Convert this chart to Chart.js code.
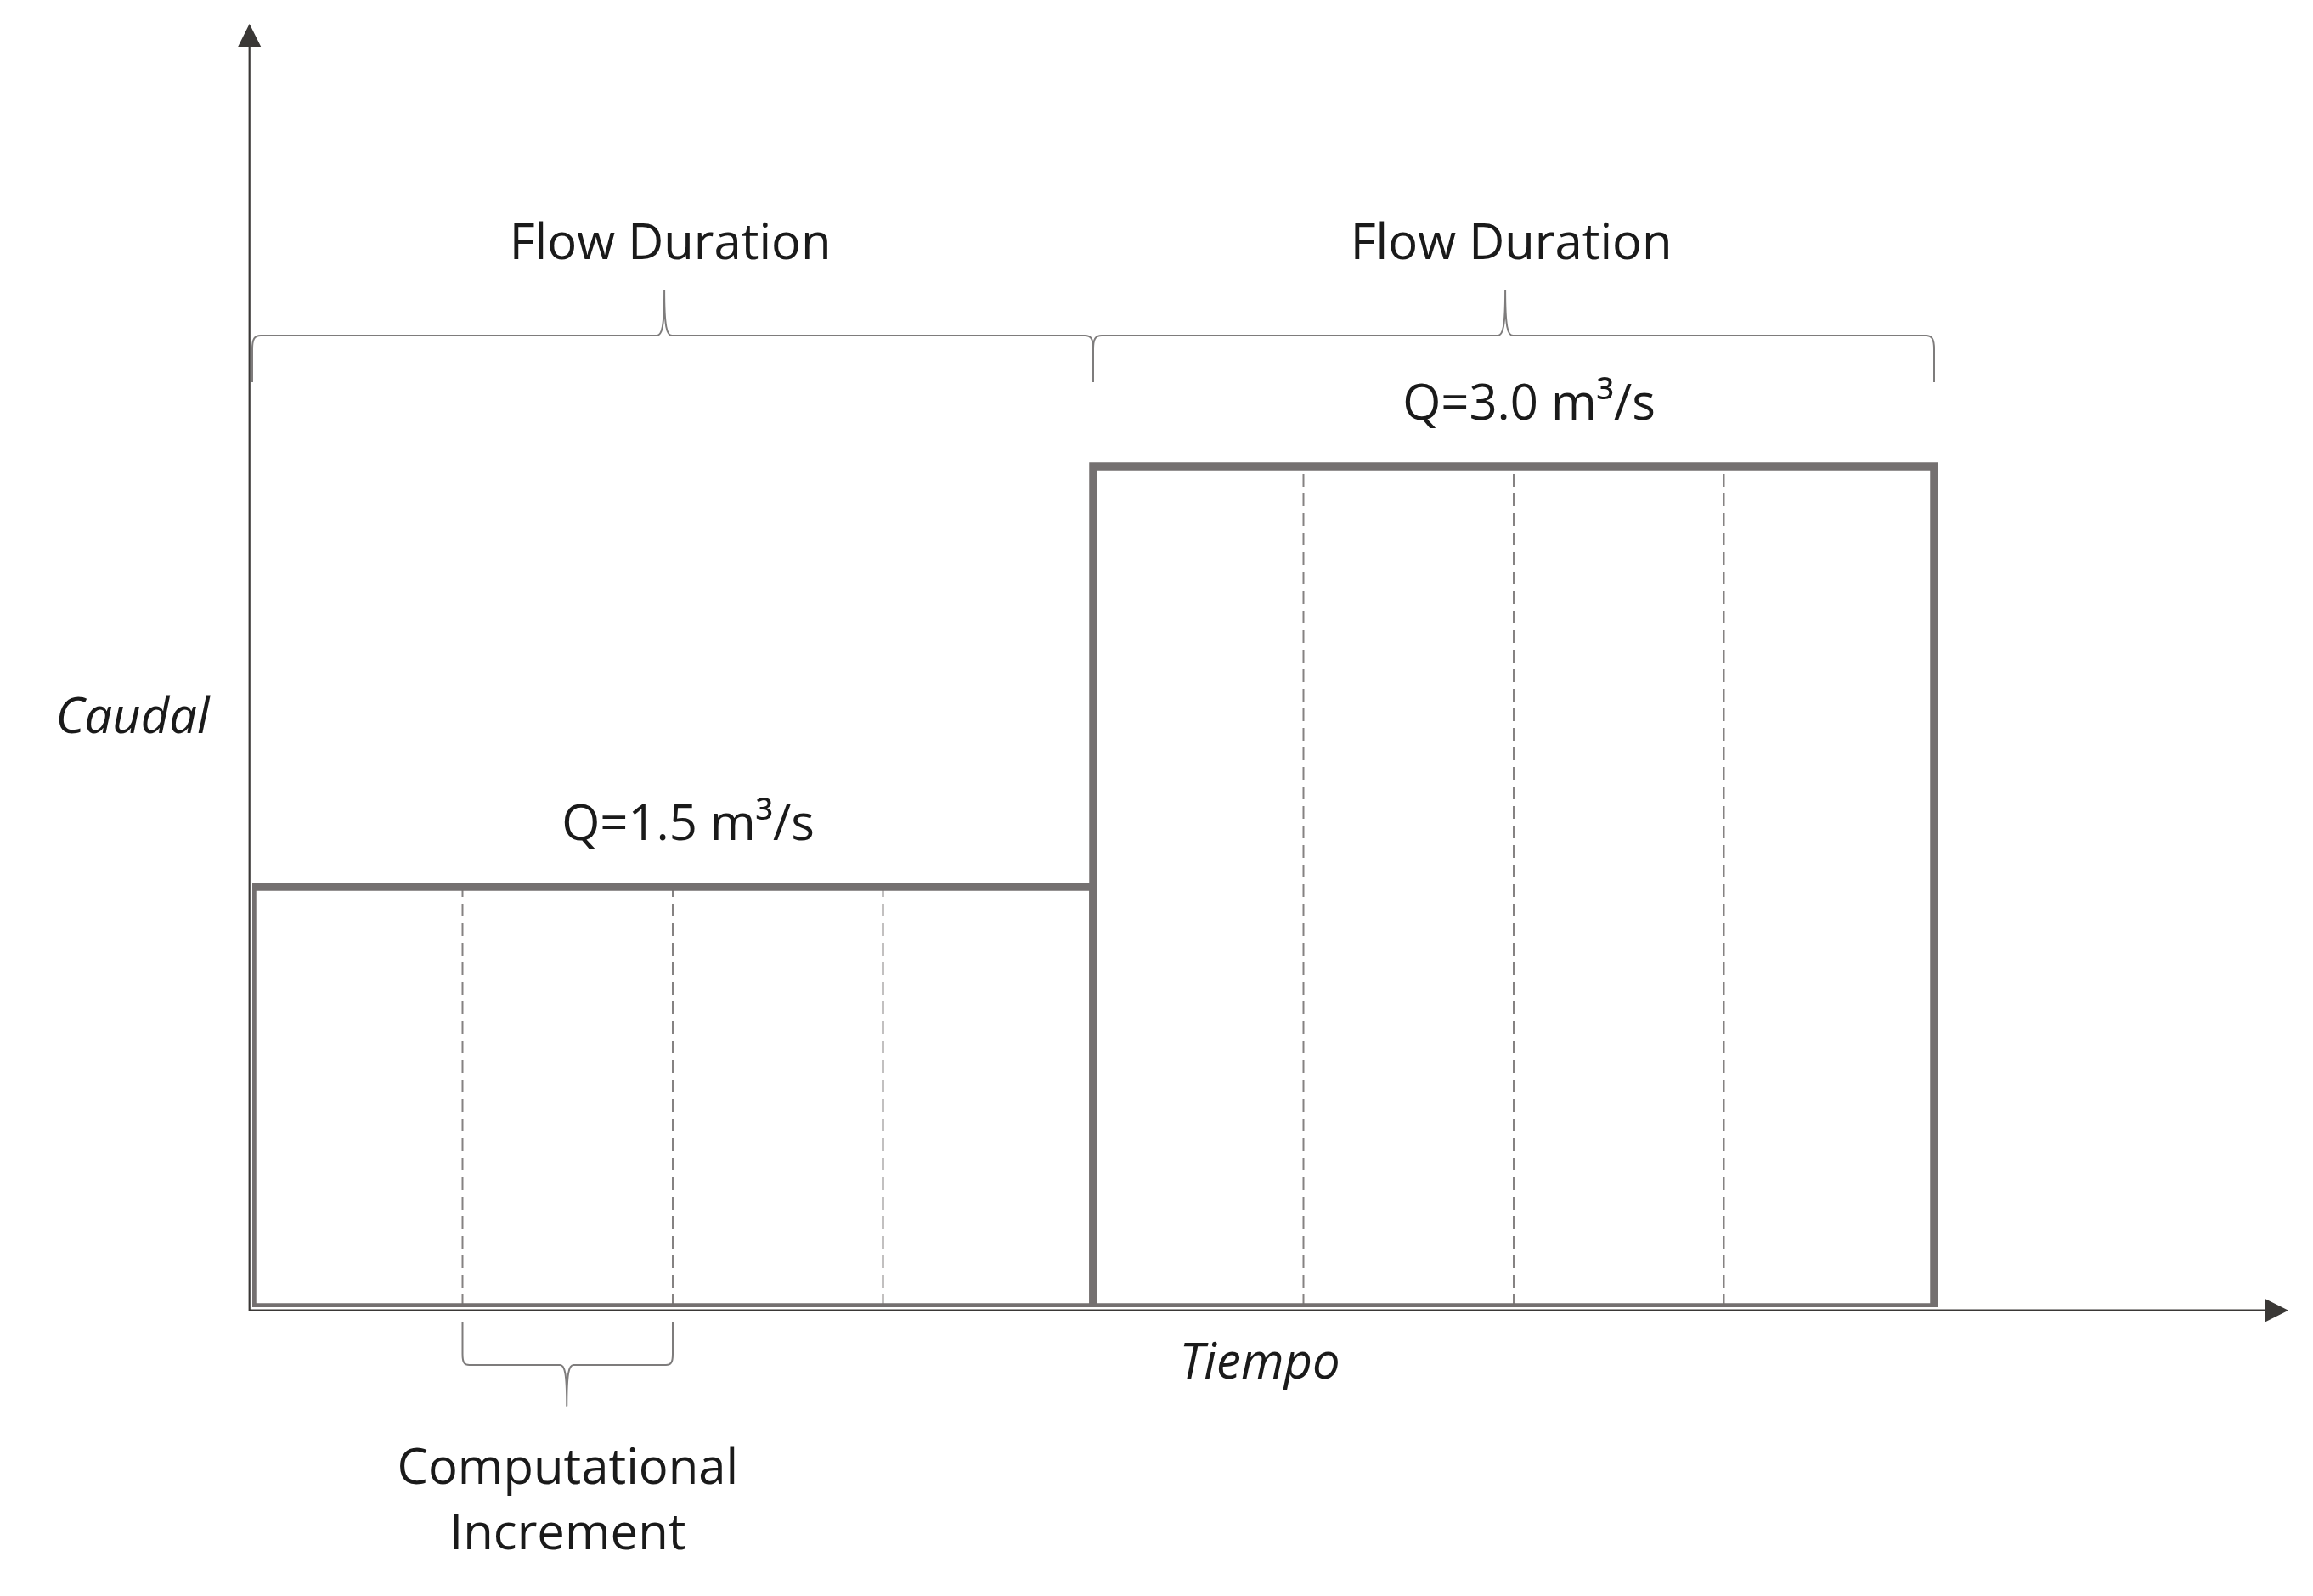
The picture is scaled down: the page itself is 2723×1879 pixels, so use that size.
<!DOCTYPE html>
<html>
<head>
<meta charset="utf-8">
<script src="https://cdn.jsdelivr.net/npm/chart.js@4.4.1/dist/chart.umd.min.js"></script>
<style>
html,body{margin:0;padding:0;background:#ffffff;}
#wrap{width:2723px;height:1879px;position:relative;}
canvas{display:block;}
</style>
</head>
<body>
<div id="wrap"><canvas id="c" width="2723" height="1879"></canvas></div>
<script>
// ---------------- DATA ----------------
const segmentStart = [0, 4];            // start time of each flow period (computational increments)
const segmentEnd = [4, 8];              // end time of each flow period
const flowValues = [1.5, 3.0];          // Q, m3/s
const flowLabels = ['Q=1.5 m³/s', 'Q=3.0 m³/s'];
const incrementBoundaries = [[1, 2, 3], [5, 6, 7]];   // dashed computational increment limits
const durationLabels = ['Flow Duration', 'Flow Duration'];
const incrementBraceRange = [1, 2];
const incrementLabelLines = ['Computational', 'Increment'];
const xAxisTitle = 'Tiempo';
const yAxisTitle = 'Caudal';

// ---------------- STYLE ----------------
const RECT_COLOR = '#747070';
const DASH_COLOR = '#858282';
const AXIS_COLOR = '#3a3836';
const BRACE_COLOR = '#7e7c7c';
const TEXT_COLOR = '#1a1a1a';
const FONT = '"Open Sans", "Noto Sans", sans-serif';
const FONT_SIZE = 58;

// ---------------- DATASETS ----------------
const datasets = [];
segmentStart.forEach((s, i) => {
  const pts = [];
  incrementBoundaries[i].forEach(b => {
    pts.push({x: b, y: 0});
    pts.push({x: b, y: flowValues[i]});
    pts.push({x: b, y: null});
  });
  datasets.push({
    label: 'increments ' + (i + 1),
    data: pts,
    showLine: true,
    spanGaps: false,
    borderColor: DASH_COLOR,
    borderWidth: 2,
    borderDash: [15, 8],
    pointRadius: 0,
    fill: false,
    order: 2
  });
});
segmentStart.forEach((s, i) => {
  const e = segmentEnd[i], q = flowValues[i];
  datasets.push({
    label: flowLabels[i],
    data: [{x: s, y: 0}, {x: s, y: q}, {x: e, y: q}, {x: e, y: 0}, {x: s, y: 0}],
    showLine: true,
    borderColor: RECT_COLOR,
    borderWidth: 9.5,
    borderJoinStyle: 'miter',
    borderCapStyle: 'square',
    pointRadius: 0,
    tension: 0,
    fill: false,
    order: 1
  });
});

// ---------------- DRAWING HELPERS ----------------
function drawBrace(ctx, x0, x1, xc, yLine, yEnd, yTip, r, rc) {
  const dir = Math.sign(yEnd - yLine);
  ctx.beginPath();
  ctx.moveTo(x0, yEnd);
  ctx.lineTo(x0, yLine + dir * r * 1.6);
  ctx.bezierCurveTo(x0, yLine + dir * r * 0.4, x0 + r * 0.25, yLine, x0 + r, yLine);
  ctx.lineTo(xc - rc, yLine);
  ctx.bezierCurveTo(xc - rc * 0.3, yLine, xc, yLine - dir * rc * 1.2, xc, yTip);
  ctx.bezierCurveTo(xc, yLine - dir * rc * 1.2, xc + rc * 0.3, yLine, xc + rc, yLine);
  ctx.lineTo(x1 - r, yLine);
  ctx.bezierCurveTo(x1 - r * 0.25, yLine, x1, yLine + dir * r * 0.4, x1, yLine + dir * r * 1.6);
  ctx.lineTo(x1, yEnd);
  ctx.stroke();
}

const diagramPlugin = {
  id: 'diagram',
  beforeDraw(chart) {
    const ctx = chart.ctx;
    ctx.save();
    ctx.fillStyle = '#ffffff';
    ctx.fillRect(0, 0, chart.width, chart.height);
    ctx.restore();
  },
  beforeDatasetsDraw(chart) {
    const ctx = chart.ctx, xs = chart.scales.x, ys = chart.scales.y;
    const y0 = ys.getPixelForValue(0) + 3.7;
    const xStart = xs.getPixelForValue(0) - 4;
    const xTip = chart.chartArea.right + 21;
    ctx.save();
    ctx.strokeStyle = AXIS_COLOR;
    ctx.fillStyle = AXIS_COLOR;
    ctx.lineWidth = 2.2;
    ctx.beginPath();
    ctx.moveTo(xStart, y0);
    ctx.lineTo(xTip - 26, y0);
    ctx.stroke();
    ctx.beginPath();
    ctx.moveTo(xTip, y0);
    ctx.lineTo(xTip - 27, y0 - 13.5);
    ctx.lineTo(xTip - 27, y0 + 13.5);
    ctx.closePath();
    ctx.fill();
    ctx.restore();
  },
  afterDatasetsDraw(chart) {
    const ctx = chart.ctx, xs = chart.scales.x, ys = chart.scales.y;
    const X = v => xs.getPixelForValue(v), Y = v => ys.getPixelForValue(v);
    ctx.save();
    const x0 = X(0) - 3.3;
    const yTop = chart.chartArea.top - 26;
    ctx.strokeStyle = AXIS_COLOR;
    ctx.fillStyle = AXIS_COLOR;
    ctx.lineWidth = 2.2;
    ctx.beginPath();
    ctx.moveTo(x0, Y(0) + 5);
    ctx.lineTo(x0, yTop + 26);
    ctx.stroke();
    ctx.beginPath();
    ctx.moveTo(x0, yTop);
    ctx.lineTo(x0 - 13.5, yTop + 27);
    ctx.lineTo(x0 + 13.5, yTop + 27);
    ctx.closePath();
    ctx.fill();

    ctx.strokeStyle = BRACE_COLOR;
    ctx.lineWidth = 2;
    ctx.lineJoin = 'round';
    const topLine = 3.4667, topEnd = 3.3, topTip = 3.627;
    const cuspX = [];
    segmentStart.forEach((s, i) => {
      const a = X(s), b = X(segmentEnd[i]);
      const xc = a + (b - a) * 0.49;
      cuspX.push(xc);
      drawBrace(ctx, a, b, xc, Y(topLine), Y(topEnd), Y(topTip), 10, 9);
    });
    const ba = X(incrementBraceRange[0]), bb = X(incrementBraceRange[1]);
    const bc = (ba + bb) / 2 - 1;
    drawBrace(ctx, ba, bb, bc, Y(-0.206), Y(-0.0545), Y(-0.3515), 8, 8);

    ctx.fillStyle = TEXT_COLOR;
    ctx.textAlign = 'center';
    ctx.textBaseline = 'alphabetic';
    ctx.font = '400 ' + FONT_SIZE + 'px ' + FONT;
    durationLabels.forEach((t, i) => {
      ctx.fillText(t, cuspX[i] + 7, Y(topTip) - 37);
    });
    flowLabels.forEach((t, i) => {
      const cx = (X(segmentStart[i]) + X(segmentEnd[i])) / 2 + 18;
      ctx.fillText(t, cx, Y(flowValues[i]) - 55);
    });
    ctx.fillText(incrementLabelLines[0], bc + 1, 1747);
    ctx.fillText(incrementLabelLines[1], bc + 1, 1824);
    ctx.font = 'italic 400 ' + FONT_SIZE + 'px ' + FONT;
    ctx.fillText(yAxisTitle, 156, 863);
    ctx.fillText(xAxisTitle, 1483, 1623);
    ctx.restore();
  }
};

new Chart(document.getElementById('c'), {
  type: 'scatter',
  data: { datasets: datasets },
  options: {
    responsive: false,
    animation: false,
    events: [],
    layout: { padding: { left: 297, right: 50, top: 54, bottom: 340 } },
    scales: {
      x: { type: 'linear', min: 0, max: 9.6, display: false },
      y: { type: 'linear', min: 0, max: 4.5, display: false }
    },
    plugins: { legend: { display: false }, tooltip: { enabled: false }, title: { display: false } }
  },
  plugins: [diagramPlugin]
});
</script>
</body>
</html>
